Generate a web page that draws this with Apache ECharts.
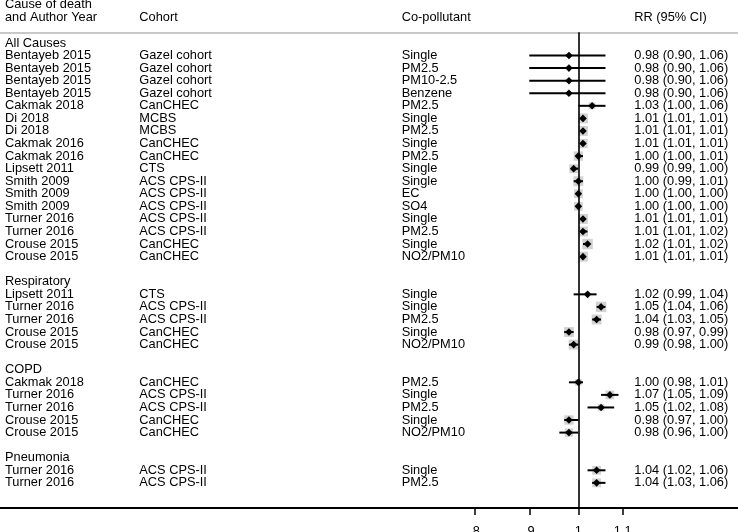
<!DOCTYPE html>
<html><head><meta charset="utf-8">
<script src="https://cdn.jsdelivr.net/npm/echarts@6/dist/echarts.min.js"></script>
<style>html,body{margin:0;padding:0;background:#fff}#c{width:738px;height:532px}</style>
</head><body><div id="c"></div>
<script>
// ---- data ----
const authors = ["All Causes","Bentayeb 2015","Bentayeb 2015","Bentayeb 2015","Bentayeb 2015","Cakmak 2018","Di 2018","Di 2018","Cakmak 2016","Cakmak 2016","Lipsett 2011","Smith 2009","Smith 2009","Smith 2009","Turner 2016","Turner 2016","Crouse 2015","Crouse 2015","",
  "Respiratory","Lipsett 2011","Turner 2016","Turner 2016","Crouse 2015","Crouse 2015","",
  "COPD","Cakmak 2018","Turner 2016","Turner 2016","Crouse 2015","Crouse 2015","",
  "Pneumonia","Turner 2016","Turner 2016"];
const cohorts = ["","Gazel cohort","Gazel cohort","Gazel cohort","Gazel cohort","CanCHEC","MCBS","MCBS","CanCHEC","CanCHEC","CTS","ACS CPS-II","ACS CPS-II","ACS CPS-II","ACS CPS-II","ACS CPS-II","CanCHEC","CanCHEC","",
  "","CTS","ACS CPS-II","ACS CPS-II","CanCHEC","CanCHEC","",
  "","CanCHEC","ACS CPS-II","ACS CPS-II","CanCHEC","CanCHEC","",
  "","ACS CPS-II","ACS CPS-II"];
const pollutants = ["","Single","PM2.5","PM10-2.5","Benzene","PM2.5","Single","PM2.5","Single","PM2.5","Single","Single","EC","SO4","Single","PM2.5","Single","NO2/PM10","",
  "","Single","Single","PM2.5","Single","NO2/PM10","",
  "","PM2.5","Single","PM2.5","Single","NO2/PM10","",
  "","Single","PM2.5"];
const rr = [null,0.98,0.98,0.98,0.98,1.03,1.01,1.01,1.01,1.00,0.99,1.00,1.00,1.00,1.01,1.01,1.02,1.01,null,
  null,1.02,1.05,1.04,0.98,0.99,null,
  null,1.00,1.07,1.05,0.98,0.98,null,
  null,1.04,1.04];
const lower = [null,0.90,0.90,0.90,0.90,1.00,1.01,1.01,1.01,1.00,0.99,0.99,1.00,1.00,1.01,1.01,1.01,1.01,null,
  null,0.99,1.04,1.03,0.97,0.98,null,
  null,0.98,1.05,1.02,0.97,0.96,null,
  null,1.02,1.03];
const upper = [null,1.06,1.06,1.06,1.06,1.06,1.01,1.01,1.01,1.01,1.00,1.01,1.00,1.00,1.01,1.02,1.02,1.01,null,
  null,1.04,1.06,1.05,0.99,1.00,null,
  null,1.01,1.09,1.08,1.00,1.00,null,
  null,1.06,1.06];
// relative study weight (drawn as grey box)
const studyWeight = [0,0,0,0,0,0.6,0.9,0.9,0.85,0.85,0.8,0.9,0.8,0.8,0.9,0.9,0.95,0.9,0,
  0,0.4,0.95,0.9,0.9,0.9,0,
  0,0.6,0.8,0.6,0.85,0.75,0,
  0,0.8,0.8];
const xTicks = [0.8, 0.9, 1, 1.1];
const headerLine1 = ["Cause of death","","",""];
const headerLine2 = ["and Author Year","Cohort","Co-pollutant","RR (95% CI)"];

// ---- layout ----
const FONT = 'Liberation Sans, Arial, Helvetica, sans-serif';
const FS = 12.8;
const colX = [5, 139.3, 401.7, 634.3];
const GRID_TOP = 32.3, GRID_BOTTOM = 24;

const rrText = rr.map((v,i)=> v==null ? "" : v.toFixed(2)+" ("+lower[i].toFixed(2)+", "+upper[i].toFixed(2)+")");
const textCols = [authors, cohorts, pollutants, rrText];

const textData = [], textStr = [];
textCols.forEach((col,c)=>{
  col.forEach((t,i)=>{ if(t){ textData.push([colX[c], i]); textStr.push(t); } });
});

const forestData = [];
rr.forEach((v,i)=>{ if(v!=null) forestData.push([v, lower[i], upper[i], i, studyWeight[i]]); });

const chart = echarts.init(document.getElementById('c'), null, {renderer:'canvas'});
const headerGraphics = [];
colX.forEach((x,c)=>{
  if (headerLine1[c]) headerGraphics.push({type:'text', left:x, top:-2, style:{text:headerLine1[c], font: FS+'px '+FONT, fill:'#000'}});
  headerGraphics.push({type:'text', left:x, top:10.5, style:{text:headerLine2[c], font: FS+'px '+FONT, fill:'#000'}});
});

chart.setOption({
  animation:false,
  backgroundColor:'#fff',
  grid:{left:0, right:0, top:GRID_TOP, bottom:GRID_BOTTOM, containLabel:false, outerBoundsMode:'none'},
  xAxis:[{
    type:'log', logBase:Math.E, min:0.2888, max:1.409, position:'bottom',
    splitLine:{show:false},
    axisLine:{show:true, onZero:false, lineStyle:{color:'#000', width:2}},
    axisTick:{show:true, length:7, lineStyle:{color:'#000', width:1.5}, customValues:xTicks},
    axisLabel:{show:true, margin:17, fontFamily:FONT, fontSize:FS, color:'#000', customValues:xTicks,
      formatter:v=>{ const s = String(Math.round(v*100)/100); return s.replace(/^0\./,'.'); }},
    minorTick:{show:false}
  },{
    type:'value', min:0, max:738, position:'top',
    splitLine:{show:false},
    axisLine:{show:true, onZero:false, lineStyle:{color:'#c8c8c8', width:2}},
    axisTick:{show:false}, axisLabel:{show:false}
  }],
  yAxis:{type:'value', inverse:true, min:-0.85, max:37, show:false, splitLine:{show:false}},
  graphic: headerGraphics,
  series:[{
    type:'custom', xAxisIndex:1, yAxisIndex:0, clip:false,
    data:textData,
    renderItem:(params, api)=>{
      const p = api.coord([api.value(0), api.value(1)]);
      return {type:'text', x:p[0], y:p[1], style:{text:textStr[params.dataIndex], font:FS+'px '+FONT, fill:'#000', verticalAlign:'middle', align:'left'}};
    }
  },{
    type:'custom', xAxisIndex:0, yAxisIndex:0, clip:false,
    data:forestData,
    renderItem:(params, api)=>{
      const row = api.value(3);
      const pM = api.coord([api.value(0), row]);
      const pL = api.coord([api.value(1), row]);
      const pH = api.coord([api.value(2), row]);
      const b = api.value(4)*11;
      const d = 3.8;
      return {type:'group', children:[
        {type:'rect', shape:{x:pM[0]-b/2, y:pM[1]-b/2, width:b, height:b}, style:{fill:'#d2d2d2'}},
        {type:'line', shape:{x1:pL[0], y1:pL[1], x2:pH[0], y2:pH[1]}, style:{stroke:'#000', lineWidth:2}},
        {type:'polygon', shape:{points:[[pM[0]-d,pM[1]],[pM[0],pM[1]-d],[pM[0]+d,pM[1]],[pM[0],pM[1]+d]]}, style:{fill:'#000'}}
      ]};
    },
    markLine:{silent:true, symbol:'none', label:{show:false},
      lineStyle:{color:'#000', width:1.6, type:'solid'},
      data:[{xAxis:1}]}
  }]
});
</script>
</body></html>
